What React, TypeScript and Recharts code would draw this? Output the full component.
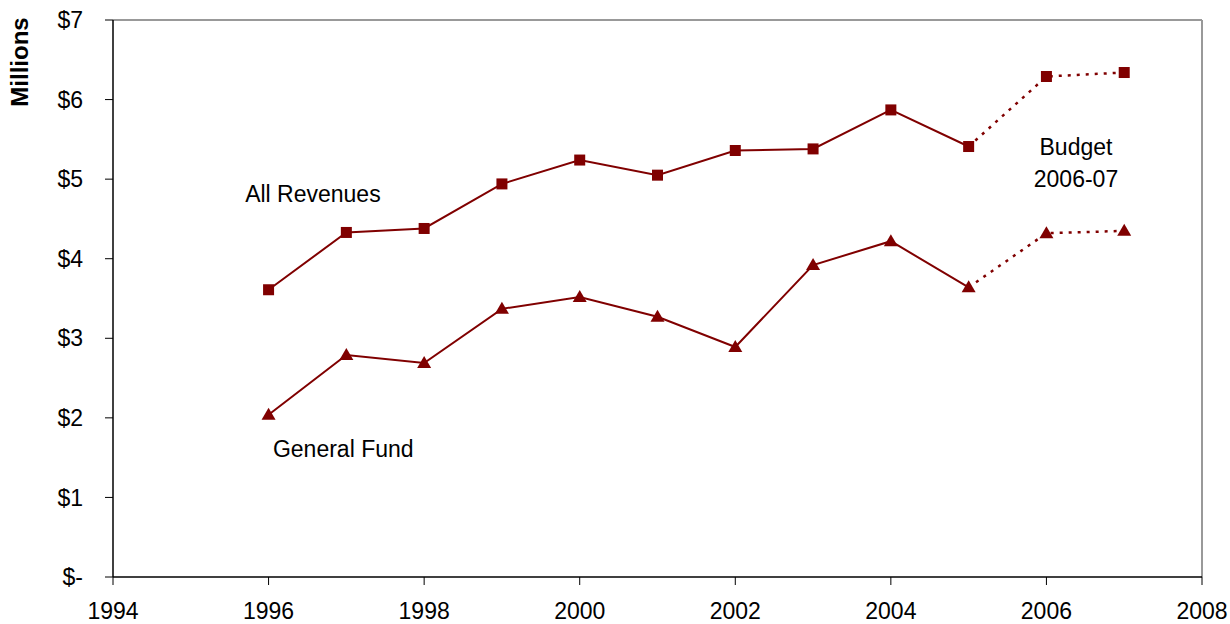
import React from "react";
import { LineChart, Line, XAxis, YAxis, ReferenceLine, ReferenceDot, Label } from "recharts";

// fiscal years on the x axis
const years = [1996, 1997, 1998, 1999, 2000, 2001, 2002, 2003, 2004, 2005, 2006, 2007];
// $ millions
const allRevenues = [3.61, 4.33, 4.38, 4.94, 5.24, 5.05, 5.36, 5.38, 5.87, 5.41, 6.29, 6.34];
const generalFund = [2.04, 2.79, 2.69, 3.37, 3.52, 3.27, 2.89, 3.92, 4.22, 3.64, 4.32, 4.35];
// from this year on the values are budgeted (dotted line)
const budgetFrom = 2005;

const xTicks = [1994, 1996, 1998, 2000, 2002, 2004, 2006, 2008];
const yTicks = [0, 1, 2, 3, 4, 5, 6, 7];

const RED = "#800000";
const FONT = "'Liberation Sans', Arial, sans-serif";
const FS = 23;

const chartData = years.map((year, i) => ({
  year,
  revActual: year <= budgetFrom ? allRevenues[i] : null,
  revBudget: year >= budgetFrom ? allRevenues[i] : null,
  gfActual: year <= budgetFrom ? generalFund[i] : null,
  gfBudget: year >= budgetFrom ? generalFund[i] : null,
}));

function squareDot(props: any) {
  const { cx, cy, payload, index } = props;
  if (cx == null || cy == null || (props.skipFirst && payload.year <= budgetFrom)) return <g key={index} />;
  return <rect key={index} x={cx - 5.5} y={cy - 5.5} width={11} height={11} fill={RED} />;
}

function triangleDot(props: any) {
  const { cx, cy, payload, index } = props;
  if (cx == null || cy == null || (props.skipFirst && payload.year <= budgetFrom)) return <g key={index} />;
  return <polygon key={index} points={`${cx},${cy - 7} ${cx + 7},${cy + 5} ${cx - 7},${cy + 5}`} fill={RED} />;
}

const fmtMoney = (v: number) => (v === 0 ? "$-" : `$${v}`);

export default function App() {
  return (
    <div style={{ position: "absolute", left: 0, top: 0, fontFamily: FONT, background: "#fff" }}>
      <LineChart width={1230} height={624} data={chartData} margin={{ top: 20, right: 28, bottom: 0, left: 43 }}>
        <XAxis
          type="number"
          dataKey="year"
          domain={[1994, 2008]}
          ticks={xTicks}
          height={47}
          tickSize={8}
          tickMargin={18}
          axisLine={{ stroke: "#000", strokeWidth: 1.5 }}
          tickLine={{ stroke: "#000" }}
          tick={{ fontSize: FS, fill: "#000", fontFamily: FONT }}
        />
        <YAxis
          type="number"
          domain={[0, 7]}
          ticks={yTicks}
          width={70}
          tickSize={8}
          tickMargin={22}
          tickFormatter={fmtMoney}
          axisLine={{ stroke: "#000", strokeWidth: 1.5 }}
          tickLine={{ stroke: "#000" }}
          tick={{ fontSize: FS, fill: "#000", fontFamily: FONT }}
        >
          <Label
            content={() => (
              <text
                x={28}
                y={62}
                transform="rotate(-90 28 62)"
                textAnchor="middle"
                fontSize={24}
                fontWeight="bold"
                fontFamily={FONT}
                fill="#000"
              >
                Millions
              </text>
            )}
          />
        </YAxis>
        <ReferenceLine y={7} stroke="#999" strokeWidth={2} />
        <ReferenceLine x={2008} stroke="#999" strokeWidth={2} />

        <Line type="linear" dataKey="revActual" stroke={RED} strokeWidth={2} dot={squareDot} activeDot={false} isAnimationActive={false} />
        <Line type="linear" dataKey="revBudget" stroke={RED} strokeWidth={2.5} strokeDasharray="3 6" dot={(p: any) => squareDot({ ...p, skipFirst: true })} activeDot={false} isAnimationActive={false} />
        <Line type="linear" dataKey="gfActual" stroke={RED} strokeWidth={2} dot={triangleDot} activeDot={false} isAnimationActive={false} />
        <Line type="linear" dataKey="gfBudget" stroke={RED} strokeWidth={2.5} strokeDasharray="3 6" dot={(p: any) => triangleDot({ ...p, skipFirst: true })} activeDot={false} isAnimationActive={false} />

        <ReferenceDot x={1996.57} y={4.82} r={0} fill="none" stroke="none" label={{ value: "All Revenues", position: "center", fontSize: FS, fill: "#000", fontFamily: FONT }} />
        <ReferenceDot x={1996.96} y={1.61} r={0} fill="none" stroke="none" label={{ value: "General Fund", position: "center", fontSize: FS, fill: "#000", fontFamily: FONT }} />
        <ReferenceDot x={2006.38} y={5.41} r={0} fill="none" stroke="none" label={{ value: "Budget", position: "center", fontSize: FS, fill: "#000", fontFamily: FONT }} />
        <ReferenceDot x={2006.38} y={5.01} r={0} fill="none" stroke="none" label={{ value: "2006-07", position: "center", fontSize: FS, fill: "#000", fontFamily: FONT }} />
      </LineChart>
    </div>
  );
}
